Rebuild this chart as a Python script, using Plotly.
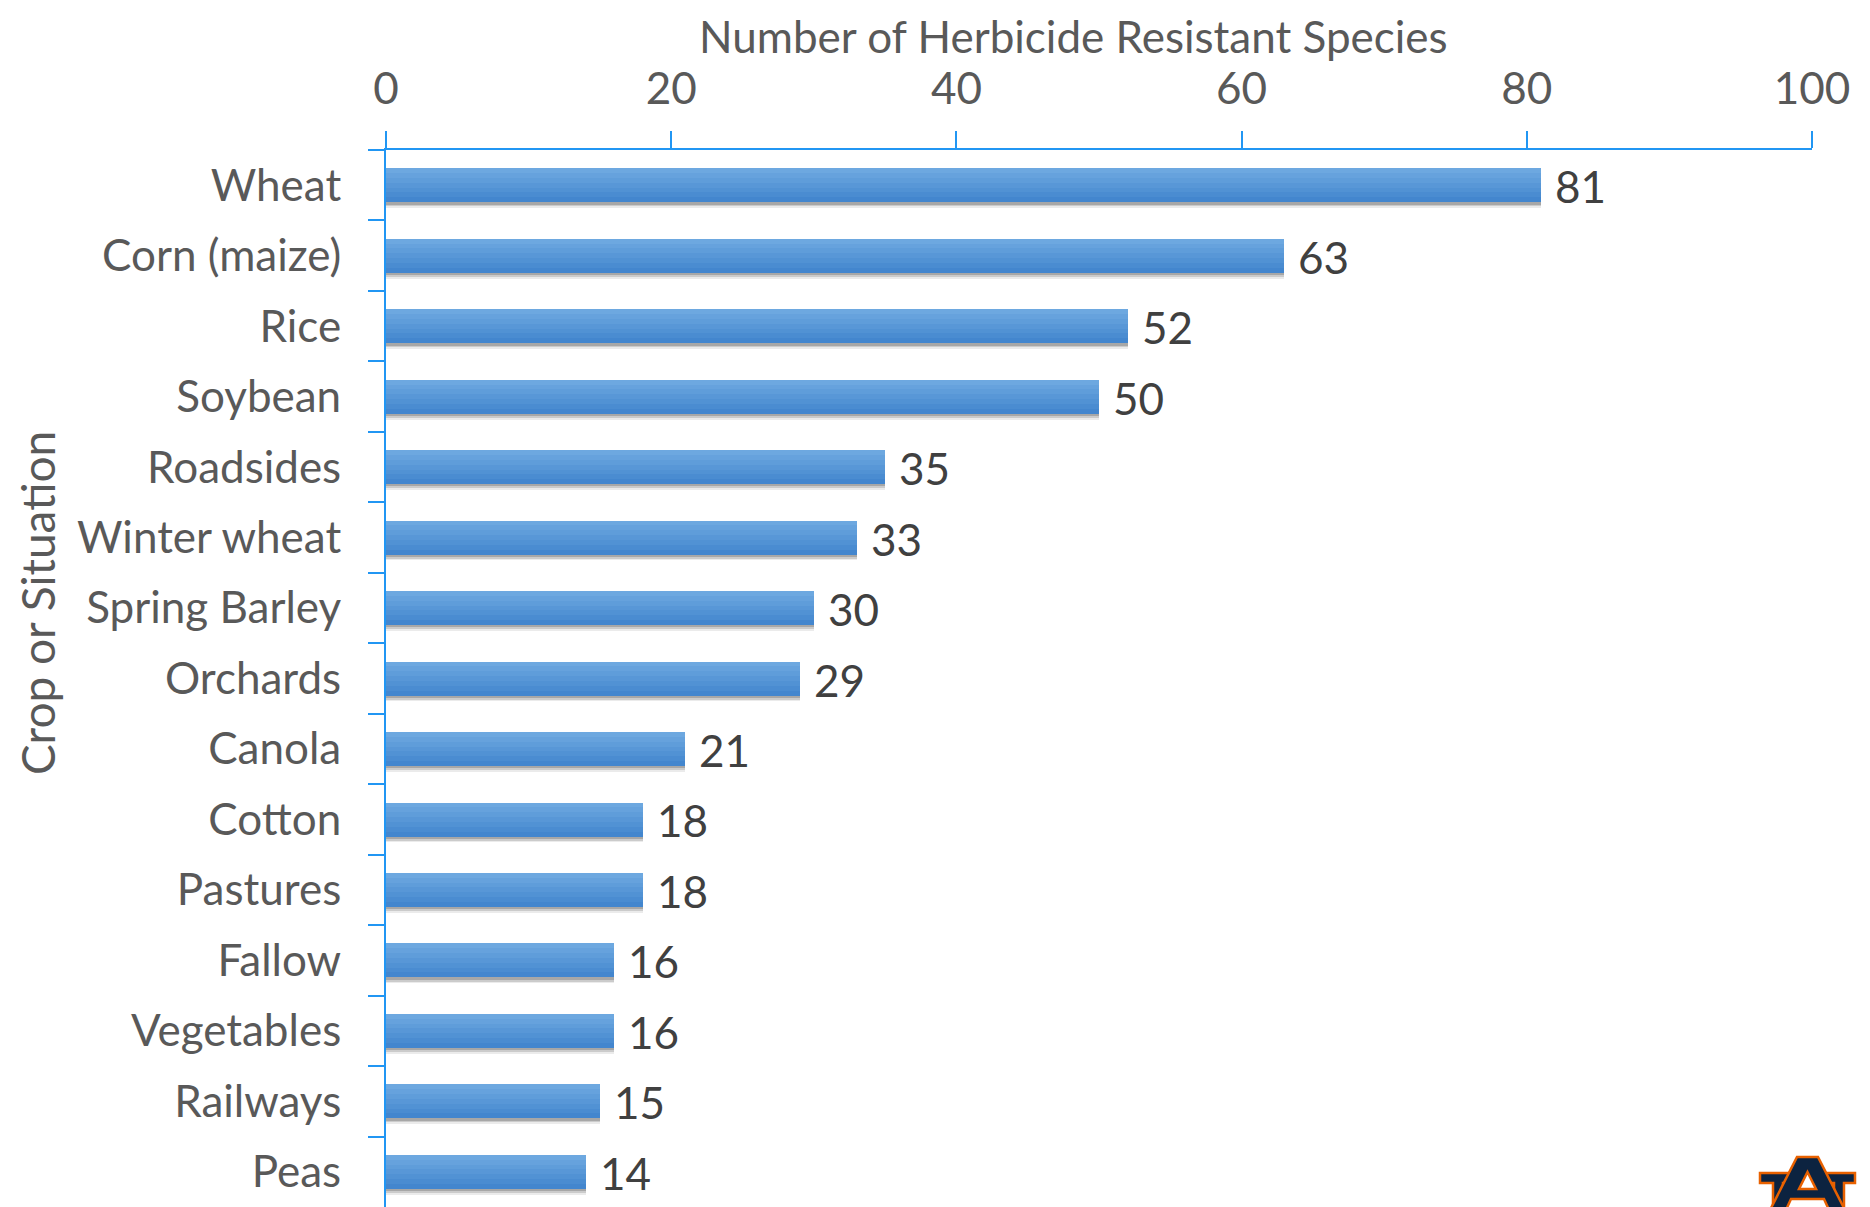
import plotly.graph_objects as go

categories = ["Wheat", "Corn (maize)", "Rice", "Soybean", "Roadsides", "Winter wheat",
              "Spring Barley", "Orchards", "Canola", "Cotton", "Pastures", "Fallow",
              "Vegetables", "Railways", "Peas"]
values = [81, 63, 52, 50, 35, 33, 30, 29, 21, 18, 18, 16, 16, 15, 14]
x_ticks = [0, 20, 40, 60, 80, 100]
x_title = "Number of Herbicide Resistant Species"
y_title = "Crop or Situation"

OFF = 8  # page body margin
W, H = 1870 - OFF, 1207 - OFF
ML, MT, MB = 386 - OFF, 150 - OFF, 0
PW = 1426
MR = W - ML - PW
PH = H - MT - MB

def px(x_img):
    return (x_img - OFF - ML) / PW

def py(y_img):
    return 1 - (y_img - OFF - MT) / PH

FONT = "Lato, 'Open Sans', sans-serif"
AXIS_BLUE = "#2196f3"
BAR_W = 0.48
FS = 44

fig = go.Figure()

# soft shadow layers
for dy, alpha in [(0.085, 0.10), (0.06, 0.18), (0.035, 0.25)]:
    fig.add_trace(go.Bar(
        y=categories, x=values, orientation="h",
        width=BAR_W, offset=-BAR_W / 2 + dy,
        marker=dict(color=f"rgba(60,60,60,{alpha})", line=dict(width=0)),
        hoverinfo="skip", showlegend=False))

# gradient bar made of strips (top light -> bottom dark)
strip_colors = ["#6da8e0", "#66a2dd", "#5f9dda", "#5897d7", "#5192d4", "#4a8cd1", "#4386ce"]
n = len(strip_colors)
for i, c in enumerate(strip_colors):
    fig.add_trace(go.Bar(
        y=categories, x=values, orientation="h",
        width=BAR_W / n + 0.003, offset=-BAR_W / 2 + i * BAR_W / n,
        marker=dict(color=c, line=dict(width=0)),
        hoverinfo="skip", showlegend=False))

annotations = []
for c, v in zip(categories, values):
    annotations.append(dict(x=v, y=c, xref="x", yref="y", text=str(v),
                            showarrow=False, xanchor="left", yanchor="middle",
                            xshift=12, yshift=-1,
                            font=dict(family=FONT, size=FS, color="#404040")))

annotations.append(dict(x=px(1073), y=py(8), xref="paper", yref="paper",
                        text=x_title, showarrow=False, xanchor="center", yanchor="top",
                        font=dict(family=FONT, size=44, color="#595959")))
annotations.append(dict(x=px(37), y=py(603), xref="paper", yref="paper",
                        text=y_title, showarrow=False, xanchor="center", yanchor="middle",
                        textangle=-90,
                        font=dict(family=FONT, size=46, color="#595959")))

shapes = []
# right-edge grey line
shapes.append(dict(type="line", xref="paper", yref="paper",
                   x0=px(1867), x1=px(1867), y0=py(1207), y1=py(0),
                   line=dict(color="#d9d9d9", width=4)))

NAVY = "#0c2340"
ORANGE = "#e86100"

def path(pts):
    return "M " + " L ".join(f"{px(a):.5f},{py(b):.5f}" for a, b in pts) + " Z"

left_serif = [(1760, 1173), (1790, 1173), (1790, 1183), (1783, 1183), (1783, 1212),
              (1773, 1212), (1773, 1183), (1760, 1183)]
right_serif = [(1825, 1173), (1855, 1173), (1855, 1183), (1844, 1183), (1844, 1212),
               (1834, 1212), (1834, 1183), (1825, 1183)]
a_shape = [(1797, 1157), (1818, 1157), (1846, 1212), (1830, 1212), (1824, 1199),
           (1791, 1199), (1785, 1212), (1769, 1212)]
a_hole = [(1807.5, 1172), (1816, 1189), (1799, 1189)]
for pts in (left_serif, right_serif, a_shape):
    shapes.append(dict(type="path", xref="paper", yref="paper", path=path(pts),
                       fillcolor=NAVY, line=dict(color=ORANGE, width=2.5), layer="above"))
shapes.append(dict(type="path", xref="paper", yref="paper", path=path(a_hole),
                   fillcolor="white", line=dict(color=ORANGE, width=2.5), layer="above"))

fig.update_layout(
    width=W, height=H,
    margin=dict(l=ML, r=MR, t=MT, b=MB, pad=0),
    paper_bgcolor="white", plot_bgcolor="white",
    barmode="overlay", bargap=0,
    showlegend=False,
    annotations=annotations,
    shapes=shapes,
    xaxis=dict(side="top", range=[0, 100], tickvals=x_ticks,
               showgrid=False, zeroline=False,
               showline=True, linecolor=AXIS_BLUE, linewidth=2,
               ticks="outside", ticklen=17, tickwidth=1.5, tickcolor=AXIS_BLUE,
               ticklabelstandoff=9,
               tickfont=dict(family=FONT, size=FS, color="#595959")),
    yaxis=dict(categoryorder="array", categoryarray=categories,
               range=[14.5, -0.5], tickson="boundaries",
               showgrid=False, zeroline=False,
               showline=True, linecolor=AXIS_BLUE, linewidth=2,
               ticks="outside", ticklen=16, tickwidth=1.5, tickcolor=AXIS_BLUE,
               ticklabelstandoff=34,
               tickfont=dict(family=FONT, size=FS, color="#595959")),
)

fig.write_html("out.html")
